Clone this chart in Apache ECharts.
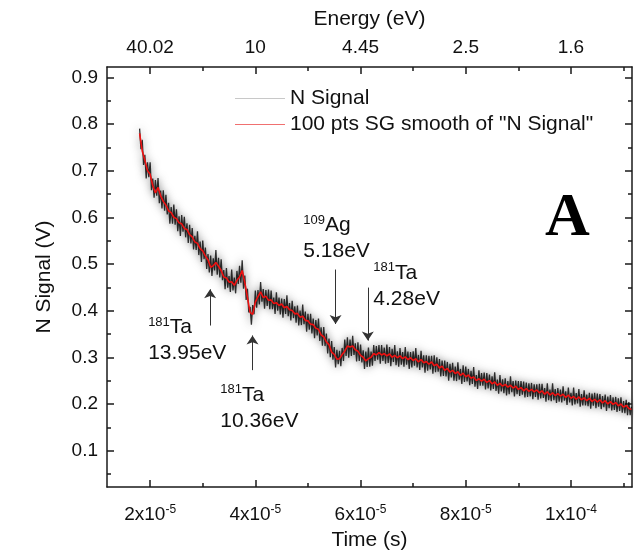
<!DOCTYPE html>
<html>
<head>
<meta charset="utf-8">
<script src="https://cdn.jsdelivr.net/npm/echarts@6.0.0/dist/echarts.min.js"></script>
<style>html,body{margin:0;padding:0;background:#fff;}#chart{width:638px;height:556px;}</style>
</head>
<body>
<div id="chart"></div>
<script>
// raw signal time in units of 1e-5 s
const rawTimeE5 = [
1.800,1.825,1.850,1.875,1.900,1.925,1.950,1.975,2.000,2.025,2.050,2.075,2.100,2.125,2.150,2.175,2.200,2.225,2.250,2.275,
2.300,2.325,2.350,2.375,2.400,2.425,2.450,2.475,2.500,2.525,2.550,2.575,2.600,2.625,2.650,2.675,2.700,2.725,2.750,2.775,
2.800,2.825,2.850,2.875,2.900,2.925,2.950,2.975,3.000,3.025,3.050,3.075,3.100,3.125,3.150,3.175,3.200,3.225,3.250,3.275,
3.300,3.325,3.350,3.375,3.400,3.425,3.450,3.475,3.500,3.525,3.550,3.575,3.600,3.625,3.650,3.675,3.700,3.725,3.750,3.775,
3.800,3.825,3.850,3.875,3.900,3.925,3.950,3.975,4.000,4.025,4.050,4.075,4.100,4.125,4.150,4.175,4.200,4.225,4.250,4.275,
4.300,4.325,4.350,4.375,4.400,4.425,4.450,4.475,4.500,4.525,4.550,4.575,4.600,4.625,4.650,4.675,4.700,4.725,4.750,4.775,
4.800,4.825,4.850,4.875,4.900,4.925,4.950,4.975,5.000,5.025,5.050,5.075,5.100,5.125,5.150,5.175,5.200,5.225,5.250,5.275,
5.300,5.325,5.350,5.375,5.400,5.425,5.450,5.475,5.500,5.525,5.550,5.575,5.600,5.625,5.650,5.675,5.700,5.725,5.750,5.775,
5.800,5.825,5.850,5.875,5.900,5.925,5.950,5.975,6.000,6.025,6.050,6.075,6.100,6.125,6.150,6.175,6.200,6.225,6.250,6.275,
6.300,6.325,6.350,6.375,6.400,6.425,6.450,6.475,6.500,6.525,6.550,6.575,6.600,6.625,6.650,6.675,6.700,6.725,6.750,6.775,
6.800,6.825,6.850,6.875,6.900,6.925,6.950,6.975,7.000,7.025,7.050,7.075,7.100,7.125,7.150,7.175,7.200,7.225,7.250,7.275,
7.300,7.325,7.350,7.375,7.400,7.425,7.450,7.475,7.500,7.525,7.550,7.575,7.600,7.625,7.650,7.675,7.700,7.725,7.750,7.775,
7.800,7.825,7.850,7.875,7.900,7.925,7.950,7.975,8.000,8.025,8.050,8.075,8.100,8.125,8.150,8.175,8.200,8.225,8.250,8.275,
8.300,8.325,8.350,8.375,8.400,8.425,8.450,8.475,8.500,8.525,8.550,8.575,8.600,8.625,8.650,8.675,8.700,8.725,8.750,8.775,
8.800,8.825,8.850,8.875,8.900,8.925,8.950,8.975,9.000,9.025,9.050,9.075,9.100,9.125,9.150,9.175,9.200,9.225,9.250,9.275,
9.300,9.325,9.350,9.375,9.400,9.425,9.450,9.475,9.500,9.525,9.550,9.575,9.600,9.625,9.650,9.675,9.700,9.725,9.750,9.775,
9.800,9.825,9.850,9.875,9.900,9.925,9.950,9.975,10.000,10.025,10.050,10.075,10.100,10.125,10.150,10.175,10.200,10.225,10.250,10.275,
10.300,10.325,10.350,10.375,10.400,10.425,10.450,10.475,10.500,10.525,10.550,10.575,10.600,10.625,10.650,10.675,10.700,10.725,10.750,10.775,
10.800,10.825,10.850,10.875,10.900,10.925,10.950,10.975,11.000,11.025,11.050,11.075,11.100,11.125,11.150
];
// raw "N Signal" (V)
const nSignal = [
0.790,0.746,0.766,0.712,0.734,0.683,0.718,0.686,0.718,0.658,0.683,0.642,0.680,0.646,0.684,0.630,0.657,0.619,0.658,0.614,
0.648,0.606,0.631,0.586,0.622,0.586,0.627,0.584,0.617,0.570,0.602,0.560,0.605,0.569,0.601,0.557,0.587,0.545,0.584,0.544,
0.577,0.531,0.560,0.530,0.570,0.519,0.548,0.504,0.550,0.510,0.535,0.489,0.521,0.482,0.518,0.474,0.512,0.486,0.530,0.477,
0.513,0.471,0.510,0.465,0.487,0.446,0.491,0.449,0.474,0.440,0.488,0.443,0.471,0.437,0.485,0.457,0.496,0.460,0.508,0.447,
0.475,0.423,0.447,0.396,0.408,0.370,0.412,0.392,0.443,0.406,0.444,0.413,0.461,0.419,0.446,0.404,0.444,0.410,0.445,0.403,
0.443,0.403,0.428,0.393,0.439,0.400,0.428,0.392,0.426,0.385,0.425,0.393,0.433,0.388,0.416,0.379,0.421,0.384,0.409,0.374,
0.411,0.368,0.400,0.369,0.413,0.371,0.398,0.355,0.393,0.359,0.393,0.351,0.383,0.341,0.380,0.347,0.383,0.335,0.364,0.325,
0.365,0.324,0.351,0.308,0.340,0.300,0.335,0.295,0.322,0.278,0.316,0.285,0.314,0.281,0.320,0.292,0.338,0.303,0.343,0.299,
0.338,0.303,0.346,0.305,0.330,0.291,0.332,0.292,0.327,0.289,0.315,0.275,0.312,0.279,0.321,0.280,0.312,0.282,0.326,0.292,
0.324,0.295,0.326,0.286,0.326,0.292,0.321,0.286,0.327,0.288,0.322,0.281,0.318,0.290,0.326,0.283,0.313,0.280,0.320,0.284,
0.311,0.280,0.322,0.284,0.312,0.275,0.311,0.278,0.313,0.282,0.320,0.278,0.305,0.273,0.314,0.278,0.304,0.267,0.304,0.271,
0.303,0.274,0.303,0.265,0.304,0.268,0.300,0.269,0.296,0.259,0.293,0.260,0.293,0.259,0.290,0.250,0.286,0.257,0.288,0.250,
0.280,0.249,0.289,0.252,0.275,0.243,0.283,0.247,0.280,0.248,0.275,0.240,0.271,0.243,0.279,0.237,0.262,0.232,0.272,0.239,
0.266,0.239,0.267,0.231,0.266,0.233,0.263,0.229,0.259,0.232,0.268,0.228,0.252,0.222,0.262,0.227,0.253,0.223,0.255,0.218,
0.249,0.221,0.259,0.225,0.249,0.216,0.250,0.221,0.249,0.217,0.249,0.220,0.248,0.214,0.246,0.215,0.244,0.216,0.245,0.210,
0.242,0.215,0.242,0.209,0.243,0.212,0.243,0.213,0.234,0.205,0.244,0.208,0.231,0.206,0.244,0.208,0.232,0.202,0.234,0.205,
0.231,0.203,0.238,0.207,0.227,0.198,0.235,0.203,0.224,0.197,0.235,0.199,0.223,0.201,0.232,0.194,0.221,0.197,0.229,0.197,
0.220,0.195,0.224,0.190,0.222,0.196,0.224,0.191,0.222,0.194,0.221,0.189,0.217,0.193,0.220,0.185,0.216,0.191,0.219,0.186,
0.214,0.187,0.215,0.183,0.212,0.185,0.214,0.181,0.206,0.180,0.209,0.176,0.204,0.176,0.194
];
// smoothed signal time in units of 1e-5 s
const timeE5 = [
1.80,1.85,1.90,1.95,2.00,2.05,2.10,2.15,2.20,2.25,
2.30,2.35,2.40,2.45,2.50,2.55,2.60,2.65,2.70,2.75,
2.80,2.85,2.90,2.95,3.00,3.05,3.10,3.15,3.20,3.25,
3.30,3.35,3.40,3.45,3.50,3.55,3.60,3.65,3.70,3.75,
3.80,3.85,3.90,3.95,4.00,4.05,4.10,4.15,4.20,4.25,
4.30,4.35,4.40,4.45,4.50,4.55,4.60,4.65,4.70,4.75,
4.80,4.85,4.90,4.95,5.00,5.05,5.10,5.15,5.20,5.25,
5.30,5.35,5.40,5.45,5.50,5.55,5.60,5.65,5.70,5.75,
5.80,5.85,5.90,5.95,6.00,6.05,6.10,6.15,6.20,6.25,
6.30,6.35,6.40,6.45,6.50,6.55,6.60,6.65,6.70,6.75,
6.80,6.85,6.90,6.95,7.00,7.05,7.10,7.15,7.20,7.25,
7.30,7.35,7.40,7.45,7.50,7.55,7.60,7.65,7.70,7.75,
7.80,7.85,7.90,7.95,8.00,8.05,8.10,8.15,8.20,8.25,
8.30,8.35,8.40,8.45,8.50,8.55,8.60,8.65,8.70,8.75,
8.80,8.85,8.90,8.95,9.00,9.05,9.10,9.15,9.20,9.25,
9.30,9.35,9.40,9.45,9.50,9.55,9.60,9.65,9.70,9.75,
9.80,9.85,9.90,9.95,10.00,10.05,10.10,10.15,10.20,10.25,
10.30,10.35,10.40,10.45,10.50,10.55,10.60,10.65,10.70,10.75,
10.80,10.85,10.90,10.95,11.00,11.05,11.10,11.15
];
// 100 pts SG smooth (V)
const sgSmooth = [
0.780,0.742,0.722,0.700,0.692,0.668,0.652,0.664,0.646,0.634,
0.626,0.614,0.610,0.600,0.597,0.588,0.586,0.576,0.574,0.563,
0.558,0.547,0.544,0.533,0.528,0.517,0.509,0.493,0.496,0.503,
0.495,0.486,0.472,0.470,0.461,0.462,0.454,0.465,0.472,0.486,
0.460,0.428,0.396,0.392,0.418,0.430,0.440,0.428,0.431,0.422,
0.423,0.415,0.417,0.411,0.414,0.406,0.409,0.402,0.400,0.393,
0.394,0.386,0.388,0.379,0.378,0.371,0.370,0.362,0.360,0.348,
0.344,0.333,0.327,0.311,0.306,0.296,0.297,0.306,0.313,0.324,
0.322,0.324,0.316,0.313,0.304,0.300,0.292,0.297,0.300,0.308,
0.305,0.310,0.305,0.308,0.303,0.307,0.300,0.304,0.299,0.303,
0.297,0.301,0.295,0.299,0.293,0.297,0.290,0.295,0.288,0.291,
0.285,0.290,0.282,0.285,0.277,0.281,0.272,0.276,0.268,0.272,
0.265,0.269,0.261,0.266,0.258,0.262,0.255,0.258,0.250,0.254,
0.249,0.253,0.246,0.250,0.243,0.247,0.240,0.244,0.238,0.242,
0.236,0.240,0.234,0.238,0.231,0.235,0.228,0.233,0.227,0.231,
0.226,0.230,0.224,0.228,0.221,0.226,0.219,0.224,0.218,0.222,
0.217,0.221,0.214,0.219,0.212,0.216,0.210,0.215,0.209,0.213,
0.207,0.212,0.205,0.210,0.204,0.209,0.202,0.207,0.200,0.205,
0.199,0.203,0.196,0.200,0.193,0.197,0.190,0.188
];

const xMajorTicks = [2e-5, 4e-5, 6e-5, 8e-5, 1e-4];
const xMinorTicks = [3e-5, 5e-5, 7e-5, 9e-5, 1.1e-4];
const xTickMantissa = ['2', '4', '6', '8', '1'];
const xTickExponent = ['-5', '-5', '-5', '-5', '-4'];
const energyTickLabels = ['40.02', '10', '4.45', '2.5', '1.6'];
const yMajorTicks = [0.1, 0.2, 0.3, 0.4, 0.5, 0.6, 0.7, 0.8, 0.9];
const yMinorTicks = [0.05, 0.15, 0.25, 0.35, 0.45, 0.55, 0.65, 0.75, 0.85];

const seriesNames = ['N Signal', '100 pts SG smooth of "N Signal"'];

// arrows: time (s), tail value, tip value
const arrowTimes = [3.14e-5, 3.946e-5, 5.525e-5, 6.138e-5];
const arrowTails = [0.368, 0.2724, 0.488, 0.4493];
const arrowTips = [0.4456, 0.3467, 0.3713, 0.3357];

// annotation text: anchor (top-left) in data coordinates
const annoTimes = [1.962e-5, 3.332e-5, 4.911e-5, 6.243e-5];
const annoValues = [0.392, 0.2476, 0.6112, 0.5087];
const annoMass = ['181', '181', '109', '181'];
const annoElement = ['Ta', 'Ta', 'Ag', 'Ta'];
const annoEnergy = ['13.95eV', '10.36eV', '5.18eV', '4.28eV'];

const FONT = 'Liberation Sans, Arial, sans-serif';
const X_MIN = 1.18e-5, X_MAX = 1.116e-4, Y_MIN = 0.022, Y_MAX = 0.922;

function idxOf(arr, v) { return arr.findIndex(a => Math.abs(a - v) < Math.abs(a) * 1e-6 + 1e-15); }

const rawData = rawTimeE5.map((t, i) => [t * 1e-5, nSignal[i]]);
const smoothData = timeE5.map((t, i) => [t * 1e-5, sgSmooth[i]]);

const lineCol = '#1a1a1a';
function xAxisMajor(pos, labelFn, name, nameGap, labelMargin, rich) {
  return {
    type: 'value', position: pos, min: X_MIN, max: X_MAX,
    name: name, nameLocation: 'middle', nameGap: nameGap,
    nameTextStyle: { fontFamily: FONT, fontSize: 21, color: '#111' },
    axisLine: { show: true, onZero: false, lineStyle: { color: lineCol, width: 1.5 } },
    axisTick: { show: true, inside: true, length: 7, customValues: xMajorTicks, lineStyle: { color: lineCol, width: 1.5 } },
    axisLabel: { show: true, customValues: xMajorTicks, formatter: labelFn, margin: labelMargin,
      fontFamily: FONT, fontSize: 19, color: '#111', rich: rich },
    splitLine: { show: false }
  };
}
function xAxisMinor(pos) {
  return {
    type: 'value', position: pos, min: X_MIN, max: X_MAX,
    axisLine: { show: false, onZero: false },
    axisTick: { show: true, inside: true, length: 4, customValues: xMinorTicks, lineStyle: { color: lineCol, width: 1.5 } },
    axisLabel: { show: false }, splitLine: { show: false }
  };
}
function yAxisDef(pos, ticks, len, showLabel, showLine, name) {
  return {
    type: 'value', position: pos, min: Y_MIN, max: Y_MAX,
    name: name || '', nameLocation: 'middle', nameGap: 52,
    nameTextStyle: { fontFamily: FONT, fontSize: 21, color: '#111' },
    axisLine: { show: showLine, onZero: false, lineStyle: { color: lineCol, width: 1.5 } },
    axisTick: { show: true, inside: true, length: len, customValues: ticks, lineStyle: { color: lineCol, width: 1.5 } },
    axisLabel: { show: showLabel, customValues: ticks, formatter: v => v.toFixed(1), margin: 9,
      fontFamily: FONT, fontSize: 19, color: '#111' },
    splitLine: { show: false }
  };
}

const chart = echarts.init(document.getElementById('chart'), null, { renderer: 'canvas' });
const option = {
  backgroundColor: '#fff',
  animation: false,
  grid: { left: 107, right: 6, top: 67, bottom: 65, containLabel: false },
  legend: {
    orient: 'vertical', left: 230, top: 83, itemWidth: 50, itemHeight: 12, itemGap: 5,
    textStyle: { fontFamily: FONT, fontSize: 21, color: '#111' },
    data: [
      { name: seriesNames[0], icon: 'path://M0,0 L50,0 L50,1 L0,1 Z', itemStyle: { color: '#c8c8c8' } },
      { name: seriesNames[1], icon: 'path://M0,0 L50,0 L50,1 L0,1 Z', itemStyle: { color: '#f07070' } }
    ]
  },
  xAxis: [
    xAxisMajor('bottom', v => { const i = idxOf(xMajorTicks, v); return '{b|' + xTickMantissa[i] + 'x10}{s|' + xTickExponent[i] + '}'; },
      'Time (s)', 43, 17,
      { b: { fontFamily: FONT, fontSize: 19, color: '#111' }, s: { fontFamily: FONT, fontSize: 12, color: '#111', padding: [0, 0, 10, 0] } }),
    xAxisMinor('bottom'),
    xAxisMajor('top', v => energyTickLabels[idxOf(xMajorTicks, v)], 'Energy (eV)', 37, 10, undefined),
    xAxisMinor('top')
  ],
  yAxis: [
    yAxisDef('left', yMajorTicks, 7, true, true, 'N Signal (V)'),
    yAxisDef('left', yMinorTicks, 4, false, false),
    yAxisDef('right', yMajorTicks, 7, false, true),
    yAxisDef('right', yMinorTicks, 4, false, false)
  ],
  series: [
    {
      name: seriesNames[0], type: 'line', xAxisIndex: 0, yAxisIndex: 0, data: rawData,
      symbol: 'none', showSymbol: false, smooth: false,
      lineStyle: { color: '#000', width: 1.3, opacity: 0.8, shadowBlur: 8, shadowColor: 'rgba(50,50,50,0.75)' },
      itemStyle: { color: '#000' },
      z: 2
    },
    {
      name: seriesNames[1], type: 'line', xAxisIndex: 0, yAxisIndex: 0, data: smoothData,
      symbol: 'none', showSymbol: false, smooth: false,
      lineStyle: { color: '#ee1111', width: 1.6 }, itemStyle: { color: '#ee1111' },
      z: 3,
      markLine: {
        silent: true, symbol: ['none', 'arrow'], symbolSize: 9,
        label: { show: false },
        lineStyle: { color: '#333', width: 1, type: 'solid' },
        data: arrowTimes.map((t, i) => [{ coord: [t, arrowTails[i]] }, { coord: [t, arrowTips[i]] }])
      }
    }
  ]
};
chart.setOption(option);

const annoRich = {
  s: { fontFamily: FONT, fontSize: 13, color: '#111', padding: [0, 0, 10, 0] },
  b: { fontFamily: FONT, fontSize: 21, color: '#111', lineHeight: 26 }
};
const graphics = annoTimes.map((t, i) => {
  const p = chart.convertToPixel({ seriesIndex: 1 }, [t, annoValues[i]]);
  return {
    type: 'text', x: p[0], y: p[1], silent: true,
    style: {
      text: '{s|' + annoMass[i] + '}{b|' + annoElement[i] + '}\n{b|' + annoEnergy[i] + '}',
      rich: annoRich, fill: '#111', align: 'left', verticalAlign: 'top'
    }
  };
});
graphics.push({
  type: 'text', left: 545, top: 188, silent: true,
  style: { text: 'A', fontFamily: 'Liberation Serif, Times New Roman, serif', fontWeight: 'bold', fontSize: 62, fill: '#000' }
});
chart.setOption({ graphic: graphics });
</script>
</body>
</html>
